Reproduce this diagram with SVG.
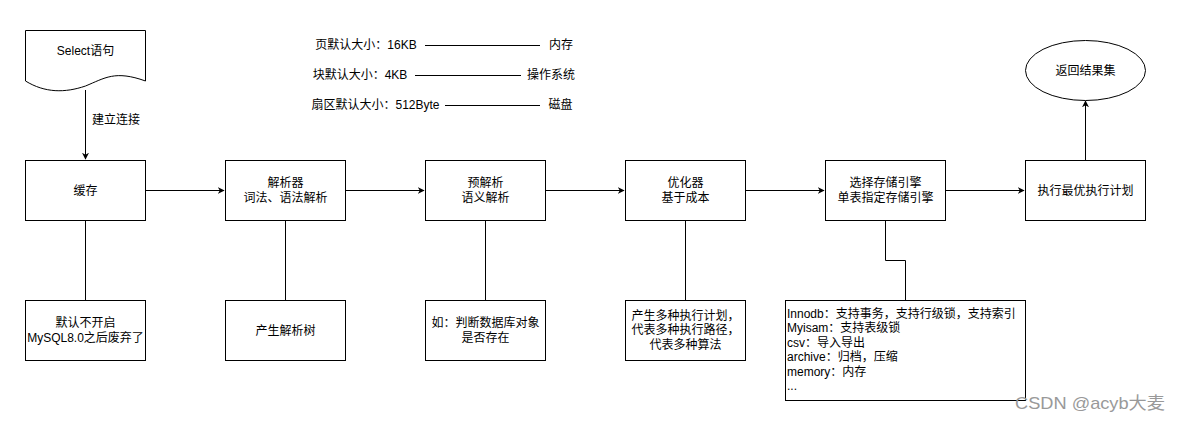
<svg xmlns="http://www.w3.org/2000/svg" width="1181" height="422" viewBox="0 0 1181 422">
<defs>
<marker id="arr" viewBox="0 0 10 10" refX="9" refY="5" markerWidth="7" markerHeight="7" orient="auto" markerUnits="userSpaceOnUse">
<path d="M0,0 L10,5 L0,10 L3,5 Z" fill="#000"/>
</marker>
<style>
text{font-family:"Liberation Sans","Noto Sans CJK SC",sans-serif;font-size:12px;fill:#000}
.c{text-anchor:middle;dominant-baseline:central}
.l{dominant-baseline:central}
.box{fill:#fff;stroke:#000;stroke-width:1}
.ln{fill:none;stroke:#000;stroke-width:1}
.wm{font-size:17px;fill:#999;dominant-baseline:central}
</style>
</defs>
<rect width="1181" height="422" fill="#fff"/>
<g id="connectors">
<path class="ln" d="M85.5,90 L85.5,159" marker-end="url(#arr)"/>
<path class="ln" d="M145,190.5 L224,190.5" marker-end="url(#arr)"/>
<path class="ln" d="M345,190.5 L424,190.5" marker-end="url(#arr)"/>
<path class="ln" d="M545,190.5 L624,190.5" marker-end="url(#arr)"/>
<path class="ln" d="M745,190.5 L824,190.5" marker-end="url(#arr)"/>
<path class="ln" d="M945,190.5 L1024,190.5" marker-end="url(#arr)"/>
<path class="ln" d="M1085.5,160 L1085.5,101" marker-end="url(#arr)"/>
<path class="ln" d="M85.5,220 L85.5,300"/>
<path class="ln" d="M285.5,220 L285.5,300"/>
<path class="ln" d="M485.5,220 L485.5,300"/>
<path class="ln" d="M685.5,220 L685.5,300"/>
<path class="ln" d="M885.5,220 L885.5,260.5 L905.5,260.5 L905.5,300"/>
<path class="ln" d="M425,45.5 L540,45.5"/>
<path class="ln" d="M415,75.5 L521,75.5"/>
<path class="ln" d="M445,105.5 L540,105.5"/>
<text class="l" x="92" y="120">建立连接</text>
</g>
<g id="select">
<path class="box" d="M25.5,30.5 L145.5,30.5 L145.5,81 C115,70 105,78 85.5,86 C65,93 45,93 25.5,81 Z"/>
<text class="c" x="85.5" y="51">Select语句</text>
</g>
<g id="cache">
<rect class="box" x="25.5" y="160.5" width="120" height="60"/>
<text class="c" x="85.5" y="190.5">缓存</text>
</g>
<g id="parser">
<rect class="box" x="225.5" y="160.5" width="120" height="60"/>
<text class="c" x="285.5" y="183">解析器</text>
<text class="c" x="285.5" y="198">词法、语法解析</text>
</g>
<g id="preparser">
<rect class="box" x="425.5" y="160.5" width="120" height="60"/>
<text class="c" x="485.5" y="183">预解析</text>
<text class="c" x="485.5" y="198">语义解析</text>
</g>
<g id="optimizer">
<rect class="box" x="625.5" y="160.5" width="120" height="60"/>
<text class="c" x="685.5" y="183">优化器</text>
<text class="c" x="685.5" y="198">基于成本</text>
</g>
<g id="engine">
<rect class="box" x="825.5" y="160.5" width="120" height="60"/>
<text class="c" x="885.5" y="183">选择存储引擎</text>
<text class="c" x="885.5" y="198">单表指定存储引擎</text>
</g>
<g id="execute">
<rect class="box" x="1025.5" y="160.5" width="120" height="60"/>
<text class="c" x="1085.5" y="190.5">执行最优执行计划</text>
</g>
<g id="result">
<ellipse class="box" cx="1085.5" cy="70.5" rx="60" ry="30"/>
<text class="c" x="1085.5" y="70.5">返回结果集</text>
</g>
<g id="cache-note">
<rect class="box" x="25.5" y="300.5" width="120" height="60"/>
<text class="c" x="85.5" y="322.5">默认不开启</text>
<text class="c" x="85.5" y="337.5">MySQL8.0之后废弃了</text>
</g>
<g id="parser-note">
<rect class="box" x="225.5" y="300.5" width="120" height="60"/>
<text class="c" x="285.5" y="330.5">产生解析树</text>
</g>
<g id="preparser-note">
<rect class="box" x="425.5" y="300.5" width="120" height="60"/>
<text class="c" x="485.5" y="323">如：判断数据库对象</text>
<text class="c" x="485.5" y="338">是否存在</text>
</g>
<g id="optimizer-note">
<rect class="box" x="625.5" y="300.5" width="120" height="60"/>
<text class="c" x="685.5" y="315.5">产生多种执行计划，</text>
<text class="c" x="685.5" y="330">代表多种执行路径，</text>
<text class="c" x="685.5" y="344.5">代表多种算法</text>
</g>
<g id="engine-note">
<rect class="box" x="785.5" y="300.5" width="240" height="100"/>
<text class="l" x="787" y="313.5">Innodb：支持事务，支持行级锁，支持索引</text>
<text class="l" x="787" y="328">Myisam：支持表级锁</text>
<text class="l" x="787" y="342.5">csv：导入导出</text>
<text class="l" x="787" y="357">archive：归档，压缩</text>
<text class="l" x="787" y="371.5">memory：内存</text>
<text class="l" x="787" y="386">...</text>
</g>
<g id="sizes">
<text class="c" x="366" y="45">页默认大小：16KB</text>
<text class="c" x="561" y="45">内存</text>
<text class="c" x="360" y="75">块默认大小：4KB</text>
<text class="c" x="551" y="75">操作系统</text>
<text class="c" x="375.5" y="105">扇区默认大小：512Byte</text>
<text class="c" x="560.5" y="105">磁盘</text>
</g>
<text class="wm" x="1015" y="403" textLength="150" lengthAdjust="spacingAndGlyphs">CSDN @acyb大麦</text>
</svg>
